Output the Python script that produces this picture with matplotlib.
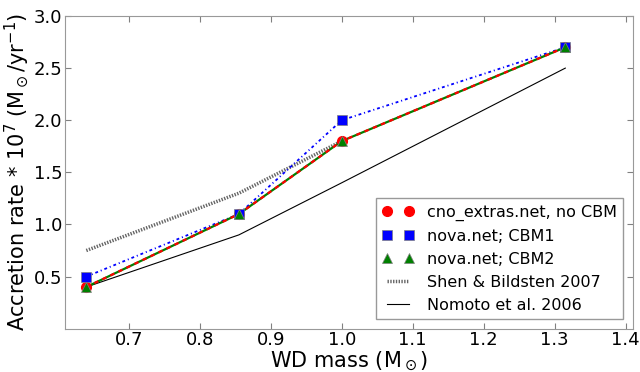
from matplotlib import pyplot as plt
import numpy as np

# WD masses and accretion rates (1e-7 Msun/yr)
wd_mass = np.array([0.64, 0.855, 1.0, 1.315])
rate_cno = np.array([0.4, 1.1, 1.8, 2.7])
rate_cbm1 = np.array([0.5, 1.1, 2.0, 2.7])
rate_cbm2 = np.array([0.4, 1.1, 1.8, 2.7])

shen_mass = np.array([0.64, 0.855, 1.0])
shen_rate = np.array([0.75, 1.3, 1.8])

nomoto_mass = np.array([0.64, 0.855, 1.0, 1.315])
nomoto_rate = np.array([0.4, 0.9, 1.4, 2.5])

fig = plt.figure(figsize=(6.4, 3.72), dpi=100)
ax = fig.add_axes([0.1016, 0.1164, 0.887, 0.8406])

# lines (no labels)
ax.plot(wd_mass, rate_cbm1, color="blue", ls="-.", lw=1.3, dashes=(1.6, 1.6, 0.6, 1.6))
ax.plot(wd_mass, rate_cbm2, color="green", ls="-", lw=1.6)
ax.plot(wd_mass, rate_cno, color="red", ls="--", lw=1.6, dashes=(2, 2))
ax.plot(shen_mass, shen_rate, color="black", ls=":", lw=2.5, dashes=(0.4, 0.4), alpha=0.6,
        label="Shen & Bildsten 2007", zorder=1)
ax.plot(nomoto_mass, nomoto_rate, color="black", lw=0.8, label="Nomoto et al. 2006", zorder=1)

# markers
ax.plot(wd_mass, rate_cno, "o", color="red", ms=7, mec="red", label="cno_extras.net, no CBM")
ax.plot(wd_mass, rate_cbm1, "s", color="blue", ms=7, mec="gray", mew=0.5, label="nova.net; CBM1")
ax.plot(wd_mass, rate_cbm2, "^", color="green", ms=7, mec="gray", mew=0.5, label="nova.net; CBM2")

ax.set_xlim(0.61, 1.41)
ax.set_ylim(0, 3.0)
ax.set_xticks([0.7, 0.8, 0.9, 1.0, 1.1, 1.2, 1.3, 1.4])
ax.set_yticks([0.5, 1.0, 1.5, 2.0, 2.5, 3.0])
ax.tick_params(direction="in", top=True, right=True, labelsize=13, color="gray", length=4)
ax.tick_params(axis="x", pad=1.5)
ax.tick_params(axis="y", pad=2)
for s in ax.spines.values():
    s.set_color("#999999")

ax.set_xlabel(r"WD mass (M$_\odot$)", fontsize=15)
ax.xaxis.set_label_coords(0.5, -0.068)
ax.set_ylabel(r"Accretion rate * 10$^7$ (M$_\odot$/yr$^{-1}$)", fontsize=15, labelpad=2)

h, l = ax.get_legend_handles_labels()
order = [2, 3, 4, 0, 1]
leg = ax.legend([h[i] for i in order], [l[i] for i in order], loc="lower right",
                numpoints=2, fontsize=11.5, fancybox=False, framealpha=1,
                borderaxespad=0.6, handlelength=2.0, labelspacing=0.5)
leg.get_frame().set_edgecolor("#999999")

fig.savefig("out.png", dpi=100)
